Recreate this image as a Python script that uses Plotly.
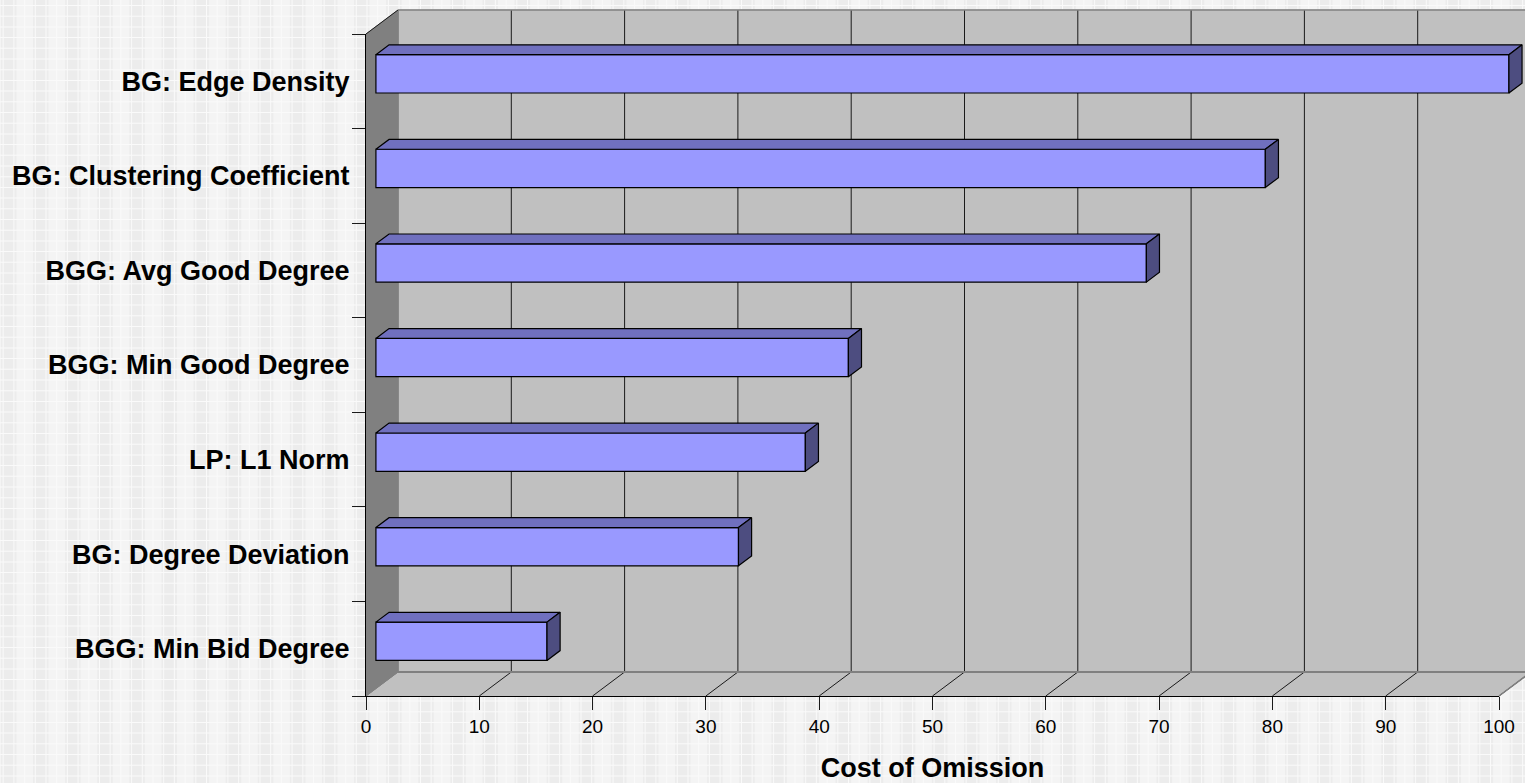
import plotly.graph_objects as go

# Feature names and their cost of omission, top to bottom
features = [
    "BG: Edge Density",
    "BG: Clustering Coefficient",
    "BGG: Avg Good Degree",
    "BGG: Min Good Degree",
    "LP: L1 Norm",
    "BG: Degree Deviation",
    "BGG: Min Bid Degree",
]
cost_of_omission = [100, 78.5, 68, 41.7, 37.9, 32, 15.1]
x_ticks = [0, 10, 20, 30, 40, 50, 60, 70, 80, 90, 100]

WIDTH, HEIGHT = 1525, 783
LEFT, RIGHT, TOP, BOTTOM = 366, 1499, 34, 696
PX_X = (RIGHT - LEFT) / 100
PX_Y = (BOTTOM - TOP) / len(features)

# Oblique projection: full chart depth, expressed in axis units
DEPTH_X = 32 / PX_X
DEPTH_Y = 24 / PX_Y
BAR_FRONT, BAR_BACK = 0.31, 0.72
BAR_HEIGHT = 0.405

WALL = "#c0c0c0"
SIDE_WALL = "#808080"
EDGE = "#808080"
INK = "#1a1a1a"
BAR_FACE = "#9999ff"
BAR_TOP = "#7070bf"
BAR_SIDE = "#4d4d80"

# The drawing axes span the whole page so the oblique parts can run past the tick axes
page_x_range = [-LEFT / PX_X, (WIDTH - LEFT) / PX_X]
page_y_range = [(HEIGHT - TOP) / PX_Y, -TOP / PX_Y]


def project(x, y, depth):
    """Shift a chart point back along the oblique depth direction."""
    return x + depth * DEPTH_X, y - depth * DEPTH_Y


def polygon(points, fill, line_color, line_width=1.0, axes=("x", "y")):
    xs, ys = zip(*points)
    return go.Scatter(
        x=list(xs) + [xs[0]], y=list(ys) + [ys[0]],
        mode="lines", fill="toself", fillcolor=fill,
        line=dict(color=line_color, width=line_width),
        hoverinfo="skip", showlegend=False,
        xaxis=axes[0], yaxis=axes[1],
    )


def segment(p, q, color, width=1.0):
    return go.Scatter(
        x=[p[0], q[0]], y=[p[1], q[1]], mode="lines",
        line=dict(color=color, width=width),
        hoverinfo="skip", showlegend=False,
    )


fig = go.Figure()
n = len(features)
x_max = x_ticks[-1]

# Back wall, floor and side wall
fig.add_trace(polygon(
    [project(0, 0, 1), project(x_max, 0, 1), project(x_max, n, 1), project(0, n, 1)],
    WALL, WALL))
fig.add_trace(polygon(
    [(0, n), (x_max, n), project(x_max, n, 1), project(0, n, 1)], WALL, WALL))
fig.add_trace(polygon(
    [(0, 0), project(0, 0, 1), project(0, n, 1), (0, n)], SIDE_WALL, SIDE_WALL))

# Gridlines on the back wall and across the floor
for t in x_ticks[1:]:
    fig.add_trace(segment(project(t, 0, 1), project(t, n, 1), INK))
    fig.add_trace(segment((t, n), project(t, n, 1), INK))

# Wall outlines
fig.add_trace(segment(project(0, 0, 1), project(x_max, 0, 1), EDGE, 1.5))
fig.add_trace(segment(project(0, 0, 1), project(0, n, 1), EDGE, 1.5))
fig.add_trace(segment(project(0, n, 1), project(x_max, n, 1), EDGE, 2))
fig.add_trace(segment((x_max, n), project(x_max, n, 1), EDGE, 1.5))
fig.add_trace(segment((0, 0), project(0, 0, 1), INK, 1))
fig.add_trace(segment((0, n), project(0, n, 1), SIDE_WALL, 1))

# Front faces of the bars, on an overlay so they sit above the walls
centers = [i + 0.5 for i in range(n)]
front_dx, front_dy = project(0, 0, BAR_FRONT)
fig.add_trace(go.Bar(
    y=[c + front_dy for c in centers],
    x=cost_of_omission,
    base=front_dx,
    orientation="h",
    width=BAR_HEIGHT,
    marker=dict(color=BAR_FACE, line=dict(color="#000000", width=1.2)),
    hoverinfo="skip", showlegend=False,
    xaxis="x2", yaxis="y2",
))

# Top and end faces of the bars
for c, v in zip(centers, cost_of_omission):
    hi, lo = c - BAR_HEIGHT / 2, c + BAR_HEIGHT / 2
    fig.add_trace(polygon(
        [project(0, hi, BAR_FRONT), project(v, hi, BAR_FRONT),
         project(v, hi, BAR_BACK), project(0, hi, BAR_BACK)],
        BAR_TOP, "#000000", 1.2, ("x2", "y2")))
    fig.add_trace(polygon(
        [project(v, hi, BAR_FRONT), project(v, hi, BAR_BACK),
         project(v, lo, BAR_BACK), project(v, lo, BAR_FRONT)],
        BAR_SIDE, "#000000", 1.2, ("x2", "y2")))

# Unfilled carrier so the tick axes are drawn
fig.add_trace(go.Scatter(
    x=[0, x_max], y=[0, n], mode="none", hoverinfo="skip", showlegend=False,
    xaxis="x3", yaxis="y3",
))

# Woven page background: broad bands plus thin crossing lines
shapes = []
for k in range(49):
    x0 = 1 + k * 32.1
    shapes.append(dict(type="rect", xref="paper", yref="paper", layer="below",
                       x0=x0 / WIDTH, x1=(x0 + 15.5) / WIDTH, y0=0, y1=1,
                       fillcolor="#ececec", line_width=0))
for k in range(144):
    x0 = 2.7 + k * 10.7
    shapes.append(dict(type="rect", xref="paper", yref="paper", layer="below",
                       x0=x0 / WIDTH, x1=(x0 + 1) / WIDTH, y0=0, y1=1,
                       fillcolor="#fafafa", line_width=0))
for k in range(74):
    y0 = 5 + k * 10.7
    shapes.append(dict(type="rect", xref="paper", yref="paper", layer="below",
                       x0=0, x1=1, y0=1 - y0 / HEIGHT, y1=1 - (y0 + 1) / HEIGHT,
                       fillcolor="#fafafa", line_width=0))

FONT = "Liberation Sans, Arial, sans-serif"
hidden_x = dict(range=page_x_range, visible=False, fixedrange=True)
hidden_y = dict(range=page_y_range, visible=False, fixedrange=True)

fig.update_layout(
    width=WIDTH, height=HEIGHT,
    margin=dict(l=0, r=0, t=0, b=0, pad=0),
    paper_bgcolor="#f4f4f4", plot_bgcolor="rgba(0,0,0,0)",
    showlegend=False, shapes=shapes, barmode="overlay",
    xaxis=dict(hidden_x, domain=[0, 1]),
    yaxis=dict(hidden_y, domain=[0, 1]),
    xaxis2=dict(hidden_x, overlaying="x"),
    yaxis2=dict(hidden_y, overlaying="y"),
    xaxis3=dict(
        domain=[LEFT / WIDTH, RIGHT / WIDTH], anchor="y3",
        range=[0, x_max], tickmode="array", tickvals=x_ticks,
        ticks="outside", ticklen=13, tickwidth=1, tickcolor=INK,
        showline=True, linecolor="#000000", linewidth=1, showgrid=False, zeroline=False,
        automargin=False,
        tickfont=dict(family=FONT, size=19, color="#000000"),
        title=dict(text="Cost of Omission", standoff=24,
                   font=dict(family=FONT, size=27, color="#000000", weight="bold")),
    ),
    yaxis3=dict(
        domain=[1 - BOTTOM / HEIGHT, 1 - TOP / HEIGHT], anchor="x3",
        range=[n, 0], tickmode="array", tickvals=centers, ticktext=features,
        ticks="", ticklabelstandoff=10, automargin=False,
        minor=dict(tickmode="array", tickvals=list(range(n + 1)), ticks="outside",
                   ticklen=13, tickwidth=1, tickcolor=INK, showgrid=False),
        showline=True, linecolor="#000000", linewidth=1, showgrid=False, zeroline=False,
        tickfont=dict(family=FONT, size=27, color="#000000", weight="bold"),
    ),
)

fig.write_html("out.html", config={"displayModeBar": False})
